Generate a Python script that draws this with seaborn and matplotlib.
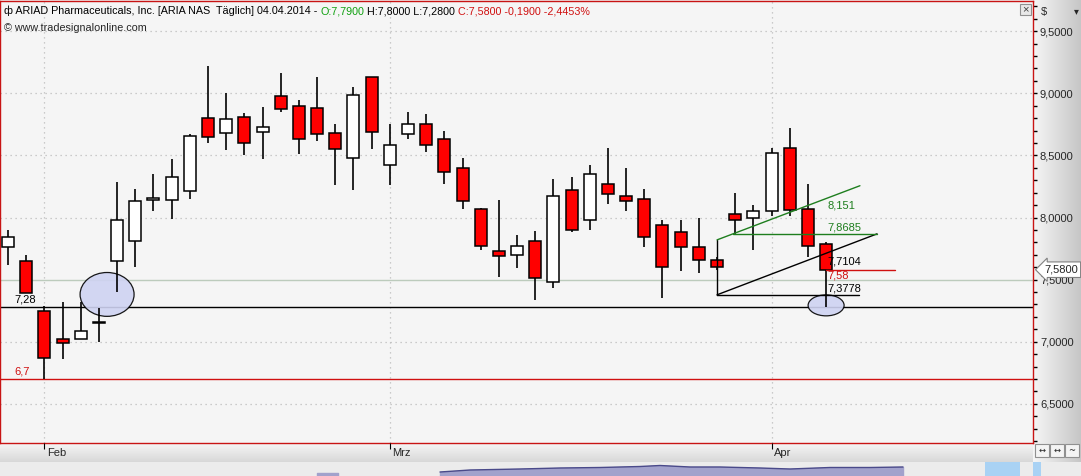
import numpy as np
import pandas as pd
import matplotlib
matplotlib.use("Agg")
import matplotlib.pyplot as plt
from matplotlib.patches import Ellipse, Rectangle
from matplotlib.colors import LinearSegmentedColormap
from matplotlib.ticker import MultipleLocator, FuncFormatter
import seaborn as sns

sns.set_style("white")
plt.rcParams['font.family'] = ['Liberation Sans', 'DejaVu Sans']

# daily candles ARIA, 30.01.2014 - 04.04.2014
dates = pd.bdate_range("2014-01-30", "2014-04-04").drop(pd.Timestamp("2014-02-17"))
opens = [7.76, 7.65, 7.25, 7.02, 7.02, 7.15, 7.65, 7.81, 8.14, 8.14, 8.21, 8.80,
         8.68, 8.81, 8.69, 8.98, 8.90, 8.88, 8.68, 8.48, 9.13, 8.42, 8.67, 8.75,
         8.63, 8.40, 8.07, 7.73, 7.70, 7.81, 7.48, 8.22, 7.98, 8.27, 8.17, 8.15,
         7.94, 7.88, 7.76, 7.66, 8.03, 8.00, 8.05, 8.56, 8.07, 7.79]
highs = [7.90, 7.70, 7.29, 7.32, 7.32, 7.27, 8.29, 8.23, 8.35, 8.47, 8.67, 9.22,
         9.00, 8.84, 8.89, 9.16, 8.95, 9.13, 8.75, 9.05, 9.13, 8.75, 8.85, 8.83,
         8.70, 8.48, 8.08, 8.14, 7.86, 7.89, 8.31, 8.33, 8.42, 8.56, 8.40, 8.23,
         7.98, 7.98, 8.00, 7.68, 8.20, 8.10, 8.56, 8.72, 8.27, 7.80]
lows = [7.62, 7.39, 6.70, 6.86, 7.02, 7.00, 7.40, 7.60, 8.05, 7.99, 8.15, 8.60,
        8.54, 8.50, 8.47, 8.85, 8.51, 8.62, 8.26, 8.22, 8.55, 8.26, 8.63, 8.53,
        8.27, 8.07, 7.74, 7.52, 7.59, 7.34, 7.43, 7.88, 7.90, 8.11, 8.05, 7.76,
        7.35, 7.57, 7.55, 7.58, 7.87, 7.74, 8.01, 8.01, 7.68, 7.28]
closes = [7.84, 7.39, 6.87, 6.99, 7.09, 7.16, 7.98, 8.13, 8.16, 8.33, 8.66, 8.65,
          8.79, 8.60, 8.73, 8.87, 8.63, 8.67, 8.55, 8.99, 8.69, 8.58, 8.75, 8.58,
          8.37, 8.13, 7.77, 7.69, 7.77, 7.51, 8.17, 7.90, 8.35, 8.19, 8.13, 7.84,
          7.60, 7.76, 7.66, 7.60, 7.98, 8.05, 8.52, 8.06, 7.77, 7.58]

# drawn levels / tools
support = 7.28
low_level = 6.7
tri_start = 39
tri_base = 7.3778
tri_top = 7.82
tri_end_x = 47.8
tri_end_y = 7.8685
green_end_x = 46.86
green_end_y = 8.256
tool_values = ["8,151", "7,8685", "7,7104", "7,58", "7,3778"]
tool_colors = ["#1e7e1e", "#1e7e1e", "black", "#d01010", "black"]
tool_y = [8.10, 7.92, 7.65, 7.535, 7.43]

W, H = 1081, 476
def fr(x0, y0, x1, y1):
    return [x0 / W, 1 - y1 / H, (x1 - x0) / W, (y1 - y0) / H]

fig = plt.figure(figsize=(W / 100, H / 100), dpi=100)
fig.patch.set_facecolor("#f0f0f0")

# background panels
bg = fig.add_axes([0, 0, 1, 1], zorder=-5)
bg.axis("off")
gcm = LinearSegmentedColormap.from_list("g", ["#f6f6f6", "#c6c6c6"])
bg.imshow(np.linspace(0, 1, 64).reshape(1, -1), extent=[1033, 1081, 462, 0], cmap=gcm, aspect="auto")
bg.imshow(np.linspace(0, 1, 64).reshape(-1, 1), extent=[0, 1033, 462, 443], cmap=gcm, aspect="auto", vmax=1.6)
bg.add_patch(Rectangle((0, 462), 1081, 14, fc="#ececec", ec="none"))
bg.add_patch(Rectangle((985, 462), 35, 14, fc="#a9d2f4", ec="none"))
bg.add_patch(Rectangle((1033, 462), 8, 14, fc="#a9d2f4", ec="none"))
ov_x = [440, 470, 520, 560, 600, 640, 660, 690, 720, 760, 790, 830, 870, 903]
ov_top = [472, 470, 469, 468, 467.5, 466.5, 465.5, 467, 467, 468, 469, 467.5, 467.5, 467]
bg.fill_between(ov_x, ov_top, 476, color="#a2a2cc")
sns.lineplot(x=ov_x, y=ov_top, ax=bg, color="#4a4a8a", lw=1, sort=False, estimator=None)
bg.fill_between([317, 338], [473, 473], 476, color="#a2a2cc")
bg.set_xlim(0, W)
bg.set_ylim(H, 0)
bg.axis("off")

# main price panel
ax = fig.add_axes(fr(0, 1, 1033, 443))
ax.set_facecolor("#f5f5f5")
x = np.arange(len(dates))
ax.set_xlim(-0.44, 56.38)
ax.set_ylim(6.185, 9.743)

for v in [6.5, 7.0, 8.0, 8.5, 9.0, 9.5]:
    ax.axhline(v, color="#bcbcbc", lw=0.9, ls=(0, (1, 3)), zorder=1)
month_pos = [i for i in range(1, len(dates)) if dates[i].month != dates[i - 1].month]
month_names = {2: "Feb", 3: "Mrz", 4: "Apr"}
for i in month_pos:
    ax.axvline(i, color="#bcbcbc", lw=0.9, ls=(0, (1, 3)), zorder=1)
ax.axhline(7.5, color="#bccbbc", lw=1, zorder=1)
ax.axhline(support, color="black", lw=1, zorder=2)
ax.axhline(low_level, color="#d01010", lw=1, zorder=2)

ax.add_patch(Ellipse((5.45, 7.381), 2.97, 0.353, fc="#cfd3f2", ec="black", lw=0.9, alpha=0.9, zorder=2.5))
ax.add_patch(Ellipse((45, 7.293), 1.98, 0.169, fc="#cfd3f2", ec="black", lw=0.9, alpha=0.9, zorder=2.5))

o = np.array(opens); c = np.array(closes)
cols = np.where(c < o, "#ff0000", "white")
ax.vlines(x, lows, highs, color="black", lw=1.2, zorder=3)
ax.bar(x, np.abs(c - o), bottom=np.minimum(o, c), width=0.66, color=cols,
       edgecolor="black", linewidth=1.1, zorder=4)

# trend tool lines
segs = [([tri_start, tri_start], [tri_top, tri_base], "black"),
        ([tri_start, 46.8], [tri_base, tri_base], "black"),
        ([tri_start, tri_end_x], [tri_base, tri_end_y], "black"),
        ([tri_start, green_end_x], [tri_top, green_end_y], "#1e7e1e"),
        ([39.9, tri_end_x], [tri_end_y, tri_end_y], "#1e7e1e"),
        ([45, 48.8], [closes[-1], closes[-1]], "#d01010")]
for sx, sy, sc in segs:
    sns.lineplot(x=sx, y=sy, ax=ax, color=sc, lw=1, sort=False, estimator=None, zorder=5)

for t, tc, ty in zip(tool_values, tool_colors, tool_y):
    ax.text(45.05, ty, t, color=tc, fontsize=8, va="center", ha="left", zorder=6)
ax.text(0.33, 7.34, "7,28", color="black", fontsize=8, va="center", ha="left")
ax.text(0.33, 6.76, "6,7", color="#d01010", fontsize=8, va="center", ha="left")

ax.yaxis.tick_right()
ax.yaxis.set_major_locator(MultipleLocator(0.5))
ax.yaxis.set_minor_locator(MultipleLocator(0.1))
ax.yaxis.set_major_formatter(FuncFormatter(lambda v, p: f"{v:.4f}".replace(".", ",")))
ax.tick_params(axis="y", which="both", right=True, length=3, width=1, color="black",
               labelsize=8, pad=2, direction="out")
ax.set_xticks([])
for s in ax.spines.values():
    s.set_color("#c81414")
    s.set_linewidth(1)
ax.annotate(f"{closes[-1]:.4f}".replace(".", ","), xy=(1.0, closes[-1]),
            xycoords=("axes fraction", "data"), xytext=(8, 0), textcoords="offset points",
            va="center", ha="left", fontsize=8, annotation_clip=False, zorder=10,
            bbox=dict(boxstyle="larrow,pad=0.25", fc="white", ec="#808080", lw=0.8))

# date strip
axd = fig.add_axes(fr(0, 443, 1033, 462))
axd.set_xlim(ax.get_xlim())
axd.set_ylim(0, 1)
axd.axis("off")
for i in month_pos:
    axd.vlines(i, 0.7, 1.0, color="black", lw=0.8)
    axd.text(i + 0.15, 0.45, month_names[dates[i].month], fontsize=8, va="center", ha="left")

# overlay text
ov = fig.add_axes([0, 0, 1, 1], zorder=10)
ov.set_xlim(0, W)
ov.set_ylim(H, 0)
ov.axis("off")
ov.patch.set_alpha(0)
fig.canvas.draw()
r = fig.canvas.get_renderer()
parts = [("ф ARIAD Pharmaceuticals, Inc. [ARIA NAS  Täglich] 04.04.2014 - ", "black"),
         ("O:7,7900", "#10a010"), (" H:7,8000 L:7,2800 ", "black"),
         ("C:7,5800 -0,1900 -2,4453%", "#d01010")]
xp = 4
for txt, col in parts:
    t = ov.text(xp, 11, txt, color=col, fontsize=7.75, va="center", ha="left")
    bb = t.get_window_extent(renderer=r)
    xp += bb.width
ov.text(4, 28, "© www.tradesignalonline.com", fontsize=7.75, va="center", ha="left")
ov.text(1041, 12, "$", fontsize=8, va="center", ha="left")
ov.text(1076, 11, "▾", fontsize=7, va="center", ha="center")
ov.add_patch(Rectangle((1020, 4), 11, 11, fc="#e8e8e8", ec="#909090", lw=0.8))
ov.text(1025.5, 9.5, "×", fontsize=8, va="center", ha="center", color="#404040")
for bx, sym in zip([1035, 1050, 1065], ["↔", "↔", "~"]):
    ov.add_patch(Rectangle((bx, 444), 14, 13, fc="#f4f4f4", ec="#909090", lw=0.8))
    ov.text(bx + 7, 450.5, sym, fontsize=6, va="center", ha="center", family="DejaVu Sans")

fig.savefig("out.png", dpi=100)
